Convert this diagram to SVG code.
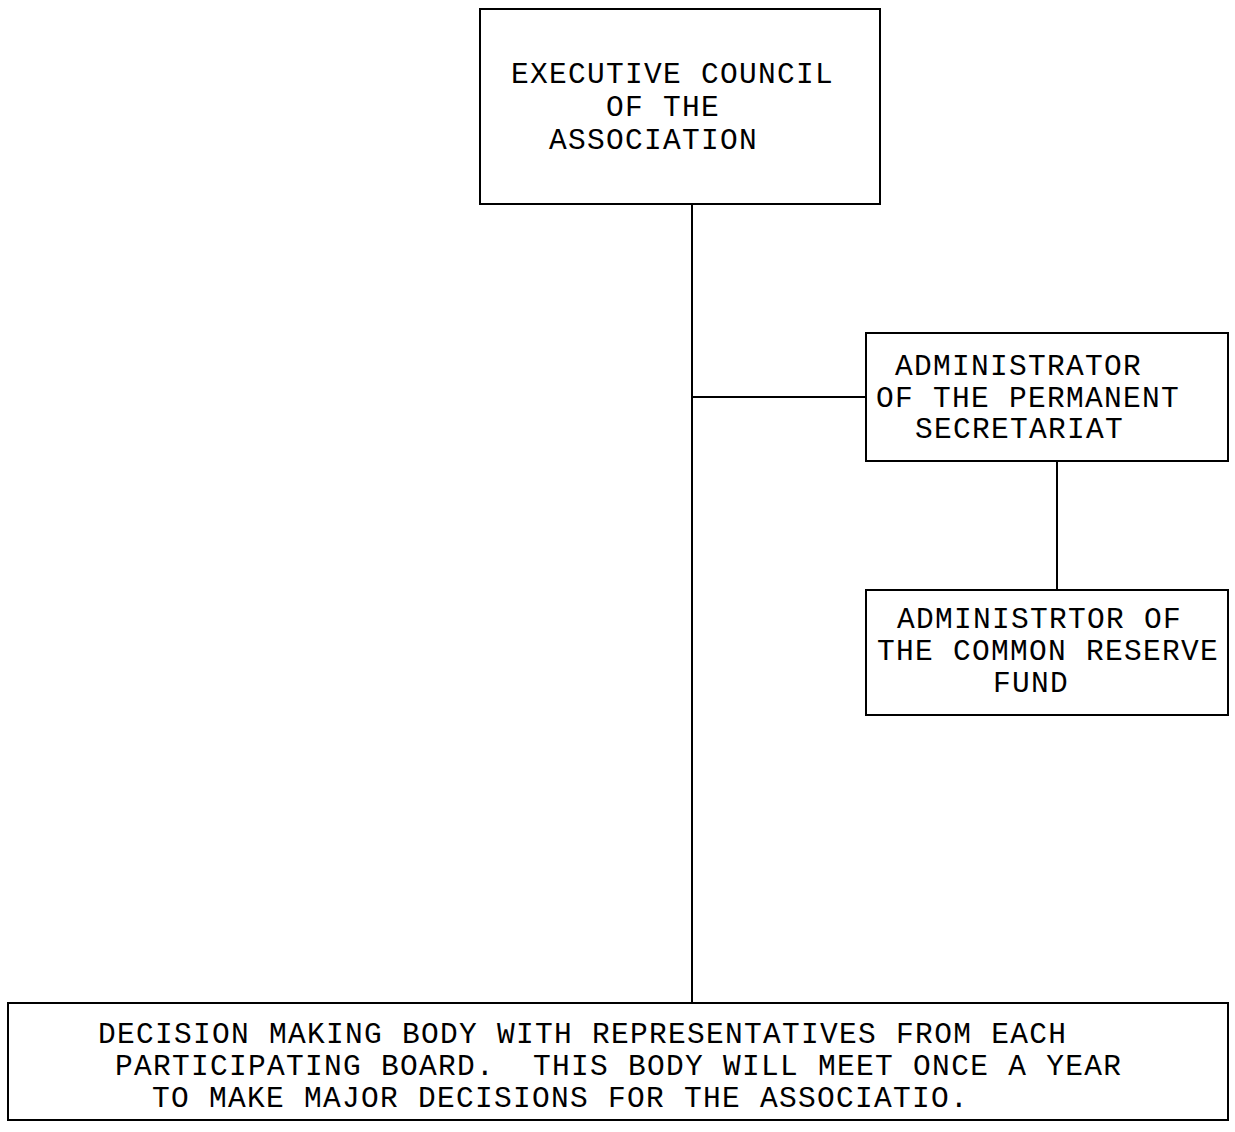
<svg xmlns="http://www.w3.org/2000/svg" width="1235" height="1132" viewBox="0 0 1235 1132">
<style>
.box{fill:#fff;stroke:#000;stroke-width:2}
.ln{stroke:#000;stroke-width:2;fill:none}
text{font-family:"Liberation Mono","DejaVu Sans Mono",monospace;font-size:29.5px;letter-spacing:1.3px;fill:#000;white-space:pre}
</style>
<rect width="1235" height="1132" fill="#fff"/>
<g id="connectors">
<line class="ln" x1="692" y1="204" x2="692" y2="1003"/>
<line class="ln" x1="692" y1="397" x2="866" y2="397"/>
<line class="ln" x1="1057" y1="461" x2="1057" y2="590"/>
</g>
<g id="executive-council">
<rect class="box" x="480" y="9" width="400" height="195"/>
<text x="511" y="83">EXECUTIVE COUNCIL</text>
<text x="606" y="116">OF THE</text>
<text x="549" y="149">ASSOCIATION</text>
</g>
<g id="administrator-secretariat">
<rect class="box" x="866" y="333" width="362" height="128"/>
<text x="895" y="375">ADMINISTRATOR</text>
<text x="876" y="407">OF THE PERMANENT</text>
<text x="915" y="438">SECRETARIAT</text>
</g>
<g id="administrator-reserve-fund">
<rect class="box" x="866" y="590" width="362" height="125"/>
<text x="897" y="628">ADMINISTRTOR OF</text>
<text x="877" y="660">THE COMMON RESERVE</text>
<text x="993" y="692">FUND</text>
</g>
<g id="decision-making-body">
<rect class="box" x="8" y="1003" width="1220" height="117"/>
<text x="98" y="1043">DECISION MAKING BODY WITH REPRESENTATIVES FROM EACH</text>
<text x="115" y="1075">PARTICIPATING BOARD.  THIS BODY WILL MEET ONCE A YEAR</text>
<text x="152" y="1107">TO MAKE MAJOR DECISIONS FOR THE ASSOCIATIO.</text>
</g>
</svg>
